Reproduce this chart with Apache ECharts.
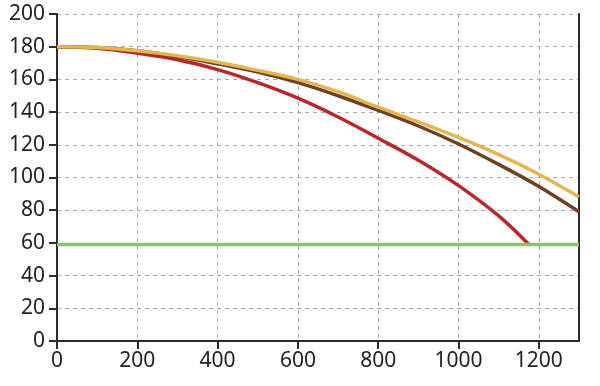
<!DOCTYPE html>
<html><head><meta charset="utf-8">
<script src="https://cdn.jsdelivr.net/npm/echarts@6/dist/echarts.min.js"></script>
<style>html,body{margin:0;padding:0;background:#fff}#c{width:600px;height:386px}</style>
</head><body><div id="c"></div>
<script>
const xValues = [0,100,200,300,400,500,600,700,800,900,1000,1100,1200,1300];
const redValues = [180,179,176,172,166,158,148.5,137,124,110.5,95,76.5];
const redEnd = [1175, 59];
const brownValues = [180,179.5,177.5,174,169.5,164.5,158,150,141,131.5,120.5,108,94.5,79];
const goldValues = [180,179.5,177.5,174.5,170.5,165.5,160,152.5,143,134,124.5,114,102,88];
const greenValue = 59;
const greenRange = [0,1300];

const pairs = (vals) => vals.map((v,i)=>[xValues[i], v]);
const redData = pairs(redValues).concat([redEnd]);

const chart = echarts.init(document.getElementById('c'), null, {renderer:'canvas'});
const font = 'Noto Sans';
chart.setOption({
  animation:false,
  grid:{left:57,right:21,top:14,bottom:45,containLabel:false},
  xAxis:{type:'value',min:0,max:1300,interval:200,
    axisLine:{show:true,onZero:false,lineStyle:{color:'#2b2b2b',width:2}},
    axisTick:{show:true,length:8,lineStyle:{color:'#2b2b2b',width:2}},
    axisLabel:{showMaxLabel:false,color:'#222',fontSize:21,fontFamily:font,margin:10,formatter:v=>String(v)},
    splitLine:{show:true,lineStyle:{color:'#aaa',type:[4,4],width:1}}},
  yAxis:[{type:'value',min:0,max:200,interval:20,
    axisLine:{show:true,lineStyle:{color:'#2b2b2b',width:2}},
    axisTick:{show:true,length:8,lineStyle:{color:'#2b2b2b',width:2}},
    axisLabel:{color:'#222',fontSize:21,fontFamily:font,margin:12,formatter:v=>String(v)},
    splitLine:{show:true,lineStyle:{color:'#aaa',type:[4,4],width:1}}},
   {type:'value',position:'right',min:0,max:200,interval:20,
    axisLine:{show:true,lineStyle:{color:'#2b2b2b',width:2}},
    axisTick:{show:false},axisLabel:{show:false},splitLine:{show:false}}],
  series:[
    {type:'line',data:redData,smooth:0.4,showSymbol:false,lineStyle:{color:'#b8272c',width:3.5},z:2},
    {type:'line',data:pairs(brownValues),smooth:0.4,showSymbol:false,lineStyle:{color:'#6b4226',width:3.5},z:3},
    {type:'line',data:pairs(goldValues),smooth:0.4,showSymbol:false,lineStyle:{color:'#e3b652',width:3.5},z:4},
    {type:'line',data:greenRange.map(x=>[x,greenValue]),showSymbol:false,lineStyle:{color:'#8dc26a',width:3.5},z:5}
  ]
});
</script></body></html>
